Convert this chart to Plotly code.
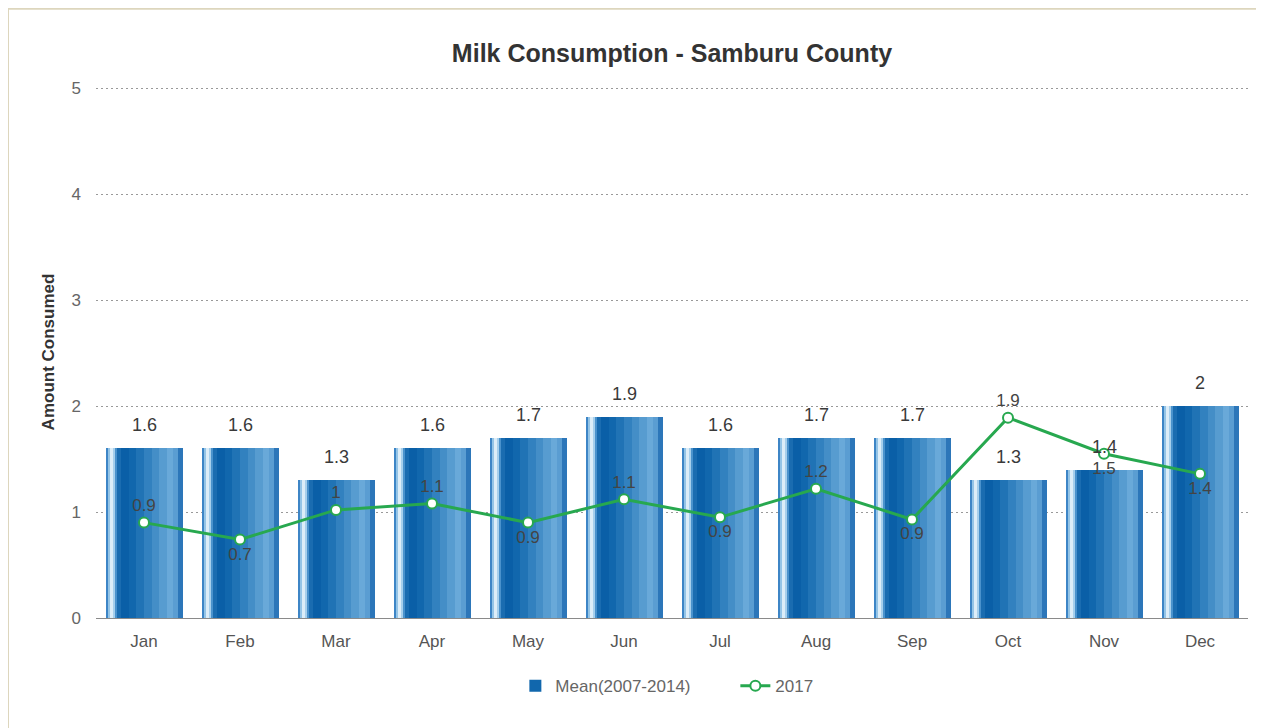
import plotly.graph_objects as go

months = ["Jan", "Feb", "Mar", "Apr", "May", "Jun", "Jul", "Aug", "Sep", "Oct", "Nov", "Dec"]
mean_2007_2014 = [1.6, 1.6, 1.3, 1.6, 1.7, 1.9, 1.6, 1.7, 1.7, 1.3, 1.4, 2.0]
mean_labels = ["1.6", "1.6", "1.3", "1.6", "1.7", "1.9", "1.6", "1.7", "1.7", "1.3", "1.4", "2"]
y2017 = [0.9, 0.74, 1.02, 1.08, 0.9, 1.12, 0.95, 1.22, 0.93, 1.89, 1.55, 1.36]
y2017_labels = ["0.9", "0.7", "1", "1.1", "0.9", "1.1", "0.9", "1.2", "0.9", "1.9", "1.5", "1.4"]
y2017_label_pos = ["top center", "bottom center", "top center", "top center", "bottom center",
                   "top center", "bottom center", "top center", "bottom center", "top center",
                   "bottom center", "bottom center"]

# cylinder-like shading: (start fraction, end fraction, colour)
BAR_W = 0.8
stripes = [
    (0.00, 0.03, "#3d85c6"),
    (0.03, 0.06, "#94c4e6"),
    (0.06, 0.09, "#dcedf8"),
    (0.09, 0.12, "#a6cfec"),
    (0.12, 0.15, "#4a92cc"),
    (0.15, 0.20, "#1a6cb0"),
    (0.20, 0.30, "#0a5fa7"),
    (0.30, 0.40, "#1167ad"),
    (0.40, 0.50, "#2073b5"),
    (0.50, 0.60, "#3281bf"),
    (0.60, 0.70, "#448ec7"),
    (0.70, 0.80, "#579cd0"),
    (0.80, 0.88, "#69a9d9"),
    (0.88, 0.94, "#5a9dd2"),
    (0.94, 1.00, "#2c76b9"),
]

FONT = "Liberation Sans, Arial, sans-serif"

fig = go.Figure()
for i, (a, b, c) in enumerate(stripes):
    fig.add_trace(go.Bar(
        x=months, y=mean_2007_2014,
        width=BAR_W * (b - a) + 0.002,
        offset=-BAR_W / 2 + BAR_W * a,
        marker=dict(color=c, line=dict(width=0)),
        name="Mean(2007-2014)",
        showlegend=(i == 7),
        hoverinfo="skip" if i != 7 else None,
    ))

fig.add_trace(go.Scatter(
    x=months, y=y2017, name="2017",
    mode="lines+markers+text",
    line=dict(color="#27a84f", width=3),
    marker=dict(size=10, color="white", line=dict(color="#27a84f", width=2)),
    text=y2017_labels, textposition=y2017_label_pos,
    textfont=dict(family=FONT, size=17, color="#444"),
))

annotations = []
for m, v, t in zip(months, mean_2007_2014, mean_labels):
    annotations.append(dict(
        x=m, y=v, xref="x", yref="y", text=t, showarrow=False,
        yanchor="bottom", yshift=11,
        font=dict(family=FONT, size=18, color="#3a3a3a"),
    ))

fig.update_layout(
    width=1256, height=720,
    margin=dict(l=88, r=16, t=78, b=110),
    paper_bgcolor="white", plot_bgcolor="white",
    barmode="overlay", bargap=0,
    font=dict(family=FONT, color="#666", size=17),
    title=dict(text="<b>Milk Consumption - Samburu County</b>",
               x=0.5, xanchor="center", xref="paper", y=0.937, yanchor="middle",
               font=dict(size=25, color="#333")),
    xaxis=dict(showgrid=False, showline=True, linecolor="#8a8a8a", linewidth=1,
               ticks="", tickfont=dict(size=17, color="#555"), ticklabelstandoff=8,
               range=[-0.5, 11.5]),
    yaxis=dict(range=[0, 5.02], tickvals=[0, 1, 2, 3, 4, 5], showgrid=True,
               gridcolor="#999999", griddash="1.5px,3.5px", gridwidth=1.2, zeroline=False,
               showline=False,
               tickfont=dict(size=17, color="#666"), ticklabelstandoff=14,
               title=dict(text="<b>Amount Consumed</b>", standoff=12,
                          font=dict(size=17, color="#333"))),
    legend=dict(orientation="h", x=0.555, xanchor="center", y=-0.128, yanchor="middle",
                font=dict(size=17, color="#666"), itemwidth=30, entrywidth=175),
    annotations=annotations,
    shapes=[dict(type="rect", xref="paper", yref="paper",
                 x0=-0.0764, y0=1.1453, x1=1.2, y1=-0.5,
                 line=dict(color="#ddd6bd", width=2), layer="below")],
)

fig.write_html("out.html")
